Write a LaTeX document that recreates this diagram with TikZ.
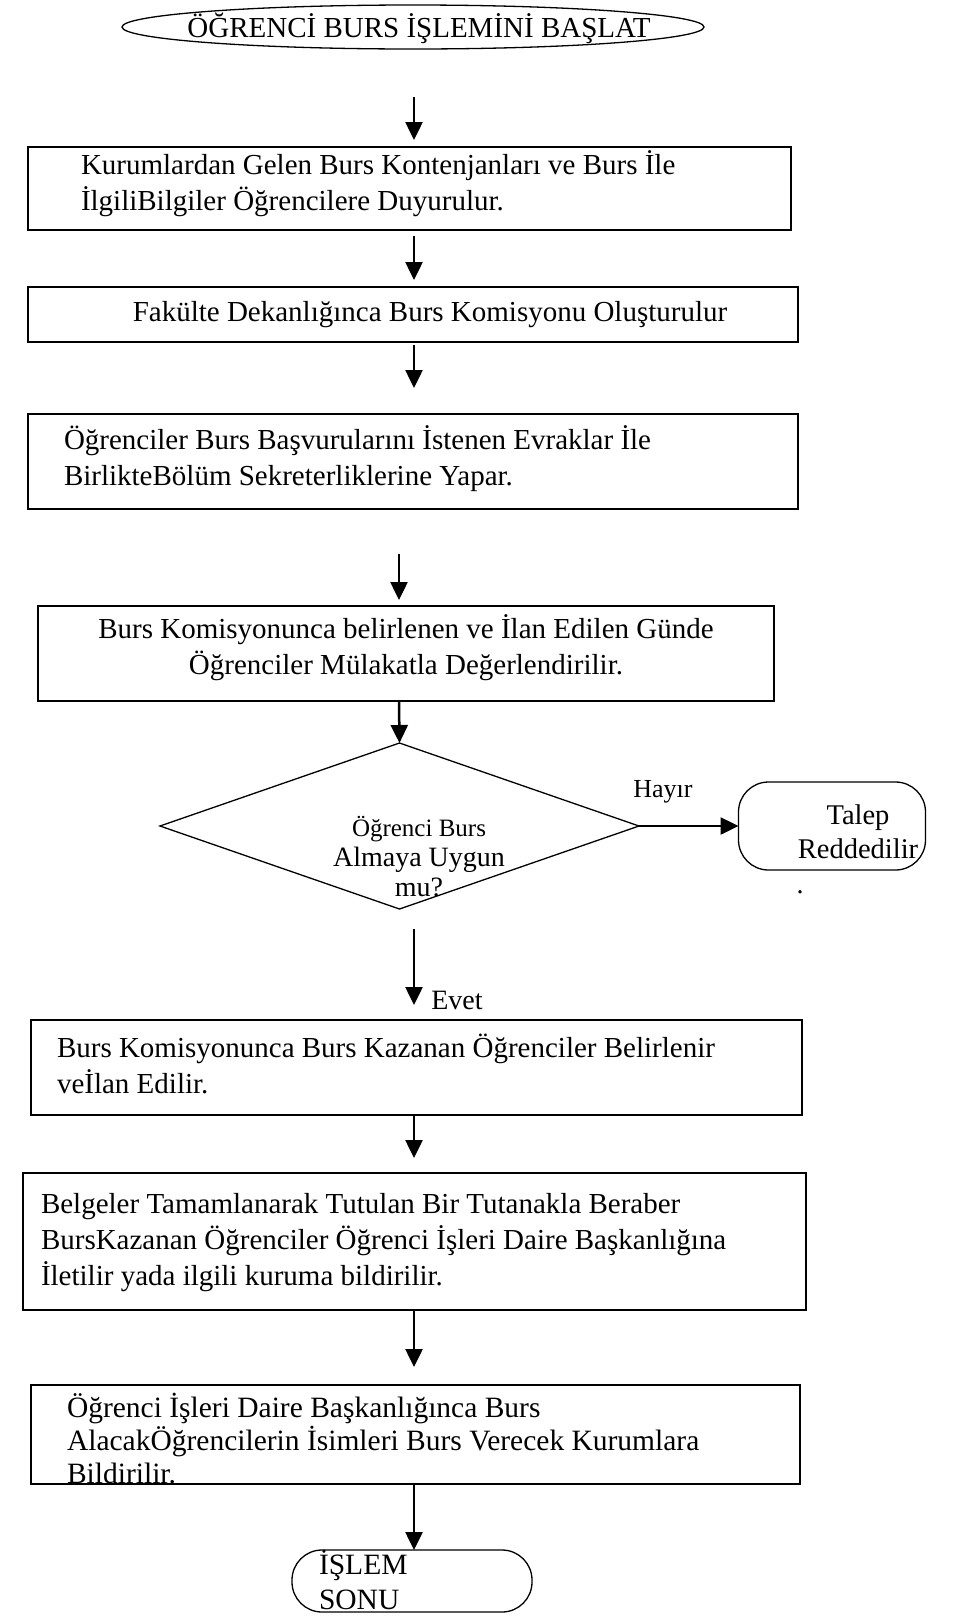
\documentclass[tikz,border=0pt]{standalone}
\usepackage{fontspec}
\setmainfont{Liberation Serif}
\usetikzlibrary{shapes.geometric,arrows.meta,calc}
\begin{document}
\begin{tikzpicture}[x=1pt,y=-1pt,
  every node/.style={inner sep=0pt,outer sep=0pt},
  box/.style={draw,line width=1.5pt,rectangle},
  txt/.style={font=\fontsize{29}{36}\selectfont,align=left},
  arr/.style={line width=2.5pt,-{Triangle[length=18pt,width=17pt]}},
  term/.style={draw,line width=1.3pt,rounded corners=30pt}]
\useasboundingbox (0,0) rectangle (964,1623);
% start
\node[draw,ellipse,line width=1.3pt,minimum width=582pt,minimum height=44pt] (start) at (413,27) {};
\node[font=\fontsize{29}{36}\selectfont] (tstart) at (419,28) {ÖĞRENCİ BURS İŞLEMİNİ BAŞLAT};
% boxes
\node[box,minimum width=763pt,minimum height=83pt] (b1) at (409.5,188.5) {};
\node[txt,anchor=west] (t1) at (81,184) {Kurumlardan Gelen Burs Kontenjanları ve Burs İle\\İlgiliBilgiler Öğrencilere Duyurulur.};
\node[box,minimum width=770pt,minimum height=55pt] (b2) at (413,314.5) {};
\node[txt] (t2) at (430,315) {Fakülte Dekanlığınca Burs Komisyonu Oluşturulur};
\node[box,minimum width=770pt,minimum height=95pt] (b3) at (413,461.5) {};
\node[txt,anchor=west] (t3) at (64,459) {Öğrenciler Burs Başvurularını İstenen Evraklar İle\\BirlikteBölüm Sekreterliklerine Yapar.};
\node[box,minimum width=736pt,minimum height=95pt] (b4) at (406,653.5) {};
\node[txt,align=center] (t4) at (406,648) {Burs Komisyonunca belirlenen ve İlan Edilen Günde\\Öğrenciler Mülakatla Değerlendirilir.};
% decision
\node[draw,diamond,line width=1.3pt,minimum width=479pt,minimum height=166pt] (d) at (399.5,826) {};
\node[align=center,font=\fontsize{28}{30}\selectfont] (td) at (419,857) {{\fontsize{25}{30}\selectfont Öğrenci Burs}\\Almaya Uygun\\mu?};
\node[term,minimum width=187pt,minimum height=88pt] (rej) at (832,826) {};
\node[align=center,font=\fontsize{28.5}{34}\selectfont] (trej) at (858,832) {Talep\\Reddedilir};
\node[font=\fontsize{28}{34}\selectfont] (dot) at (800,892) {.};
\node[font=\fontsize{26}{30}\selectfont] (hayir) at (663,792) {Hayır};
\node[font=\fontsize{28}{34}\selectfont] (evet) at (457,1000) {Evet};
% lower boxes
\node[box,minimum width=771pt,minimum height=95pt] (b5) at (416.5,1067.5) {};
\node[txt,anchor=west] (t5) at (57,1064) {Burs Komisyonunca Burs Kazanan Öğrenciler Belirlenir\\veİlan Edilir.};
\node[box,minimum width=783pt,minimum height=137pt] (b6) at (414.5,1241.5) {};
\node[txt,anchor=west] (t6) at (41,1243) {Belgeler Tamamlanarak Tutulan Bir Tutanakla Beraber\\BursKazanan Öğrenciler Öğrenci İşleri Daire Başkanlığına\\İletilir yada ilgili kuruma bildirilir.};
\node[box,minimum width=769pt,minimum height=99pt] (b7) at (415.5,1434.5) {};
\node[font=\fontsize{29.5}{33}\selectfont,align=left,anchor=south west] (t7) at (67,1484) {Öğrenci İşleri Daire Başkanlığınca Burs\\AlacakÖğrencilerin İsimleri Burs Verecek Kurumlara\\Bildirilir.};
\node[term,minimum width=240pt,minimum height=62pt] (end) at (412,1581) {};
\node[font=\fontsize{29.5}{35}\selectfont,align=left,anchor=south west] (tend) at (319,1610) {İŞLEM\\SONU};
% arrow columns
\coordinate (xa) at (414,0);
\coordinate (xb) at (399,0);
\draw[arr,shorten <=48pt,shorten >=7pt] (start.south -| xa) -- (b1.north -| xa);
\draw[arr,shorten <=6pt,shorten >=7pt] (b1.south -| xa) -- (b2.north -| xa);
\draw[arr,shorten <=3pt,shorten >=26pt] (b2.south -| xa) -- (b3.north -| xa);
\draw[arr,shorten <=45pt,shorten >=6pt] (b3.south -| xb) -- (b4.north -| xb);
\draw[arr] (b4.south -| xb) -- (d.north);
\draw[arr] (d.east) -- (rej.west);
\draw[arr,shorten <=20pt,shorten >=15pt] (d.south -| xa) -- (b5.north -| xa);
\draw[arr,shorten >=15pt] (b5.south -| xa) -- (b6.north -| xa);
\draw[arr,shorten >=18pt] (b6.south -| xa) -- (b7.north -| xa);
\draw[arr] (b7.south -| xa) -- (end.north -| xa);
\end{tikzpicture}
\end{document}
